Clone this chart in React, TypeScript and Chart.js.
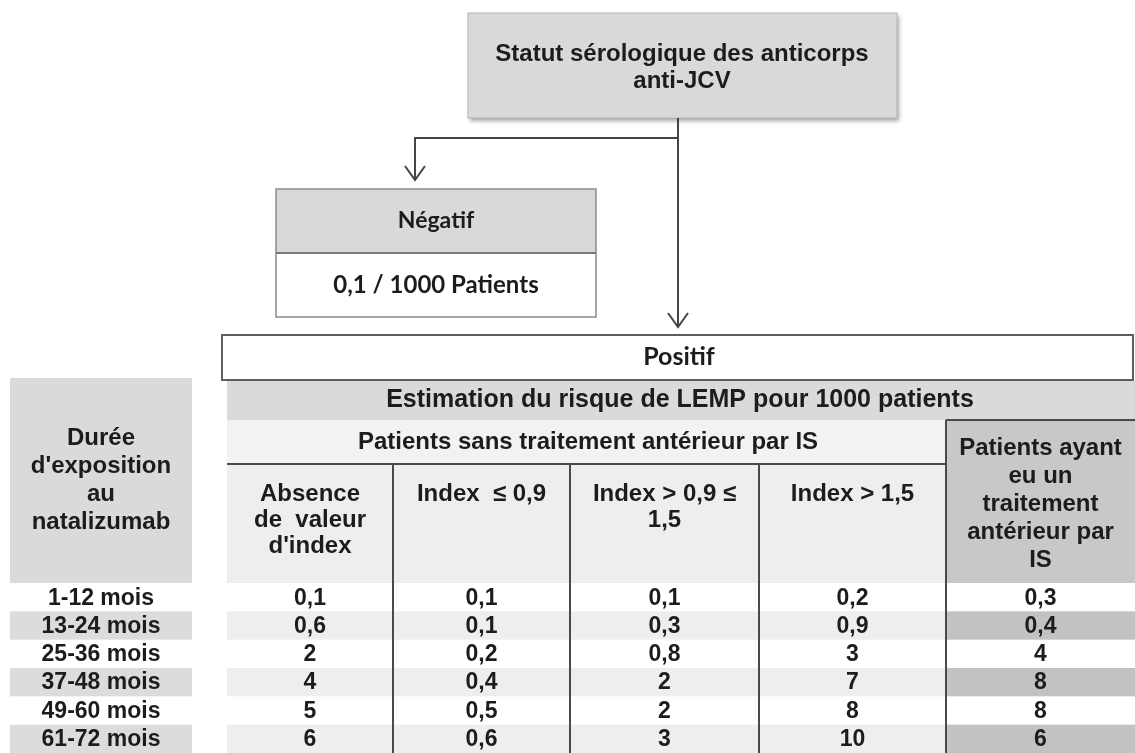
import { useEffect, useRef } from "react";
import { Chart, registerables } from "chart.js";

Chart.register(...registerables);

// ---------- data ----------
const durations = ["1-12 mois", "13-24 mois", "25-36 mois", "37-48 mois", "49-60 mois", "61-72 mois"];
const absenceIndex = [0.1, 0.6, 2, 4, 5, 6];
const indexLe09 = [0.1, 0.1, 0.2, 0.4, 0.5, 0.6];
const index09to15 = [0.1, 0.3, 0.8, 2, 2, 3];
const indexGt15 = [0.2, 0.9, 3, 7, 8, 10];
const priorIS = [0.3, 0.4, 4, 8, 8, 6];

const rowHeaderLines = ["Durée", "d'exposition", "au", "natalizumab"];
const colHeaderLines = [
  ["Absence", "de  valeur", "d'index"],
  ["Index  ≤ 0,9"],
  ["Index > 0,9 ≤", "1,5"],
  ["Index > 1,5"],
];
const priorHeaderLines = ["Patients ayant", "eu un", "traitement", "antérieur par", "IS"];
const titleLines = ["Statut sérologique des anticorps", "anti-JCV"];
const negativeLabel = "Négatif";
const negativeValue = "0,1 / 1000 Patients";
const positiveLabel = "Positif";
const estimationLabel = "Estimation du risque de LEMP pour 1000 patients";
const noPriorLabel = "Patients sans traitement antérieur par IS";

const valueColumns = [absenceIndex, indexLe09, index09to15, indexGt15, priorIS];

// ---------- layout (scale units) ----------
const W = 1135;
const H = 753;
const LABEL_COL = [10, 192];
const COL_EDGES = [227, 393, 570, 759, 946, 1135];
const ROW_TOP = 583;
const ROW_H = 28.33;

const ARIAL = "'Liberation Sans', Arial, sans-serif";
const CALIBRI = "Lato, 'Open Sans', sans-serif";

const fmt = (v: number) => String(v).replace(".", ",");

export default function App() {
  const ref = useRef<HTMLCanvasElement | null>(null);

  useEffect(() => {
    if (!ref.current) return;

    const colCenters = COL_EDGES.slice(0, -1).map((e, i) => (e + COL_EDGES[i + 1]) / 2);
    const labelCenter = (LABEL_COL[0] + LABEL_COL[1]) / 2;

    const datasets: any[] = [
      {
        label: "durations",
        data: durations.map((_, i) => ({ x: labelCenter, y: ROW_TOP + (i + 0.5) * ROW_H })),
        pointRadius: 0,
        texts: durations,
      },
      ...valueColumns.map((col, c) => ({
        label: "col" + c,
        data: col.map((_, i) => ({ x: colCenters[c], y: ROW_TOP + (i + 0.5) * ROW_H })),
        pointRadius: 0,
        texts: col.map(fmt),
      })),
    ];

    const tablePlugin = {
      id: "tablePlugin",
      beforeDatasetsDraw(chart: any) {
        const ctx = chart.ctx as CanvasRenderingContext2D;
        const xs = chart.scales.x;
        const ys = chart.scales.y;
        const X = (v: number) => xs.getPixelForValue(v);
        const Y = (v: number) => ys.getPixelForValue(v);

        const fillRect = (x0: number, y0: number, x1: number, y1: number, color: string) => {
          ctx.fillStyle = color;
          ctx.fillRect(X(x0), Y(y0), X(x1) - X(x0), Y(y1) - Y(y0));
        };
        const strokeRect = (x0: number, y0: number, x1: number, y1: number, color: string, lw: number) => {
          ctx.strokeStyle = color;
          ctx.lineWidth = lw;
          ctx.strokeRect(X(x0), Y(y0), X(x1) - X(x0), Y(y1) - Y(y0));
        };
        const line = (pts: number[][], color: string, lw: number) => {
          ctx.strokeStyle = color;
          ctx.lineWidth = lw;
          ctx.beginPath();
          pts.forEach((p, i) => (i === 0 ? ctx.moveTo(X(p[0]), Y(p[1])) : ctx.lineTo(X(p[0]), Y(p[1]))));
          ctx.stroke();
        };
        const text = (s: string, x: number, y: number, font: string, color = "#1c1c1c") => {
          ctx.font = font;
          ctx.fillStyle = color;
          ctx.textAlign = "center";
          ctx.textBaseline = "middle";
          ctx.fillText(s, X(x), Y(y));
        };
        const lines = (arr: string[], x: number, yc: number, lh: number, font: string) => {
          const start = yc - ((arr.length - 1) * lh) / 2;
          arr.forEach((s, i) => text(s, x, start + i * lh, font));
        };
        const arrow = (x: number, y: number) => {
          line([[x - 10, y - 14], [x, y], [x + 10, y - 14]], "#454545", 2);
        };

        ctx.save();
        ctx.fillStyle = "#ffffff";
        ctx.fillRect(0, 0, chart.width, chart.height);

        // ---- top box ----
        ctx.save();
        ctx.shadowColor = "rgba(0,0,0,0.35)";
        ctx.shadowBlur = 4;
        ctx.shadowOffsetX = 2;
        ctx.shadowOffsetY = 3;
        fillRect(468, 13, 897, 118, "#d9d9d9");
        ctx.restore();
        strokeRect(468, 13, 897, 118, "#b5b5b5", 1);
        lines(titleLines, 682, 68, 27, `bold 24px ${ARIAL}`);

        // ---- connectors ----
        line([[678, 118], [678, 327]], "#454545", 2);
        line([[678, 138], [415, 138], [415, 180]], "#454545", 2);
        arrow(415, 180);
        arrow(678, 327);

        // ---- négatif box ----
        fillRect(276, 189, 596, 253, "#d9d9d9");
        fillRect(276, 253, 596, 317, "#ffffff");
        strokeRect(276, 189, 596, 317, "#8a8a8a", 1.5);
        line([[276, 253], [596, 253]], "#7a7a7a", 2);
        text(negativeLabel, 436, 221, `bold 23px ${CALIBRI}`);
        text(negativeValue, 436, 285, `bold 24px ${CALIBRI}`);

        // ---- positif box ----
        fillRect(222, 335, 1133, 380, "#ffffff");
        strokeRect(222, 335, 1133, 380, "#5f5f5f", 2);
        text(positiveLabel, 679, 357, `bold 25px ${CALIBRI}`);

        // ---- header bands ----
        fillRect(227, 381, W, 420, "#dadada");
        text(estimationLabel, 680, 400, `bold 25px ${ARIAL}`);

        fillRect(LABEL_COL[0], 378, LABEL_COL[1], ROW_TOP, "#dadada");
        lines(rowHeaderLines, (LABEL_COL[0] + LABEL_COL[1]) / 2, 480, 28, `bold 24px ${ARIAL}`);

        fillRect(227, 420, 946, 464, "#f2f2f2");
        text(noPriorLabel, 588, 442, `bold 24px ${ARIAL}`);

        fillRect(227, 464, 946, ROW_TOP, "#eeeeee");
        fillRect(946, 420, W, ROW_TOP, "#c8c8c8");

        colHeaderLines.forEach((arr, c) => {
          const cx = (COL_EDGES[c] + COL_EDGES[c + 1]) / 2;
          const start = 494;
          arr.forEach((s, i) => text(s, cx, start + i * 26, `bold 24px ${ARIAL}`));
        });
        lines(priorHeaderLines, (COL_EDGES[4] + COL_EDGES[5]) / 2, 504, 28, `bold 24px ${ARIAL}`);

        // ---- data row bands ----
        durations.forEach((_, i) => {
          const y0 = ROW_TOP + i * ROW_H;
          const y1 = y0 + ROW_H;
          if (i % 2 === 1) {
            fillRect(LABEL_COL[0], y0, LABEL_COL[1], y1, "#dcdcdc");
            fillRect(COL_EDGES[0], y0, COL_EDGES[4], y1, "#eeeeee");
            fillRect(COL_EDGES[4], y0, W, y1, "#c2c2c2");
          }
        });

        // ---- grid lines ----
        line([[227, 464], [946, 464]], "#4a4a4a", 2);
        line([[946, 420], [W, 420]], "#4a4a4a", 2);
        [1, 2, 3].forEach((k) => line([[COL_EDGES[k], 464], [COL_EDGES[k], H]], "#4a4a4a", 2));
        line([[COL_EDGES[4], 420], [COL_EDGES[4], H]], "#4a4a4a", 2);

        ctx.restore();
      },
      afterDatasetsDraw(chart: any) {
        const ctx = chart.ctx as CanvasRenderingContext2D;
        ctx.save();
        ctx.font = `bold 23px ${ARIAL}`;
        ctx.fillStyle = "#1c1c1c";
        ctx.textAlign = "center";
        ctx.textBaseline = "middle";
        chart.data.datasets.forEach((ds: any, d: number) => {
          const meta = chart.getDatasetMeta(d);
          meta.data.forEach((el: any, i: number) => {
            ctx.fillText(ds.texts[i], el.x, el.y + 1);
          });
        });
        ctx.restore();
      },
    };

    const chart = new Chart(ref.current, {
      type: "scatter",
      data: { datasets },
      options: {
        responsive: false,
        maintainAspectRatio: false,
        animation: false,
        layout: { padding: 0 },
        events: [],
        plugins: { legend: { display: false }, tooltip: { enabled: false } },
        scales: {
          x: { type: "linear", display: false, min: 0, max: W },
          y: { type: "linear", display: false, min: 0, max: H, reverse: true },
        },
      },
      plugins: [tablePlugin],
    } as any);

    return () => chart.destroy();
  }, []);

  return (
    <div style={{ position: "absolute", left: 0, top: 0, width: W, height: H, background: "#fff" }}>
      <canvas ref={ref} width={W} height={H} style={{ display: "block", width: W, height: H }} />
    </div>
  );
}
